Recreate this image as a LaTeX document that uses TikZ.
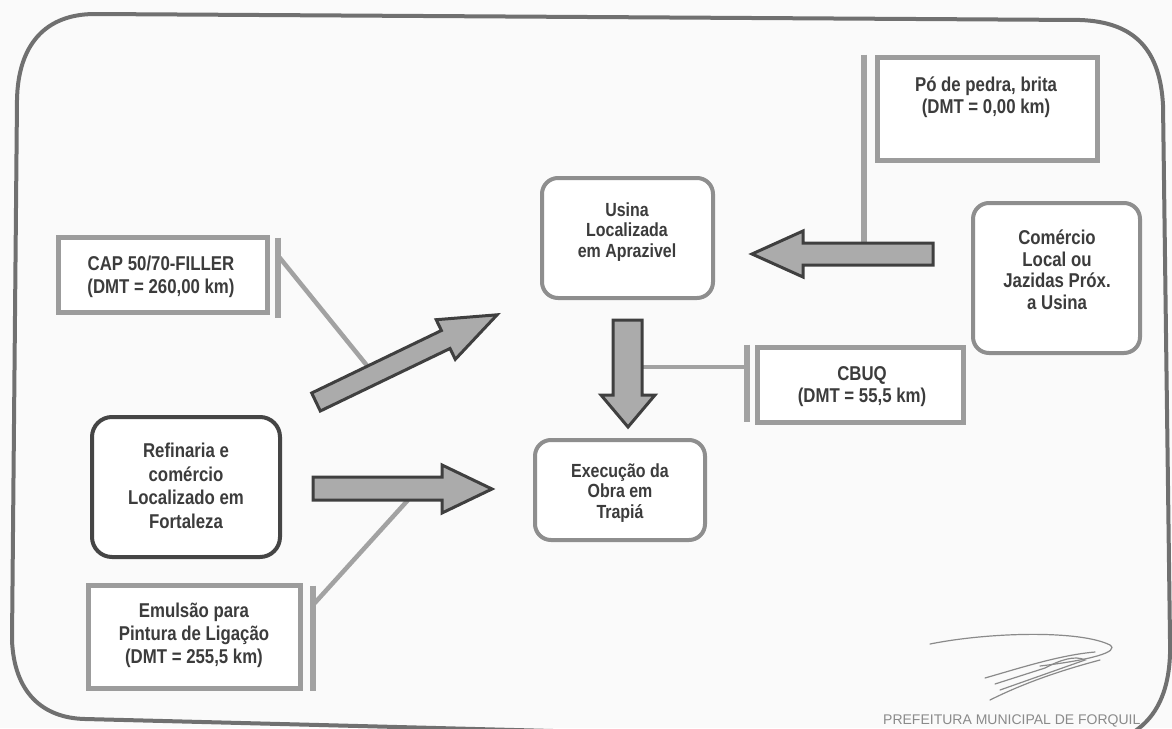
\documentclass[tikz,border=0pt]{standalone}
\usepackage{fontspec}
\setmainfont{Liberation Sans}
\newfontfamily\boxfont{Liberation Sans}[FakeStretch=0.84]
\usetikzlibrary{calc}
\definecolor{pagebg}{HTML}{FAFAFA}
\definecolor{boxgray}{HTML}{9C9C9C}
\definecolor{roundgray}{HTML}{8E8E8E}
\definecolor{darkline}{HTML}{454545}
\definecolor{txtgray}{HTML}{3C3C3C}
\definecolor{arrowfill}{HTML}{ABABAB}
\definecolor{arrowline}{HTML}{3F3F3F}
\definecolor{outergray}{HTML}{707070}
\definecolor{leadgray}{HTML}{A2A2A2}
\definecolor{siggray}{HTML}{8A8A8A}
\tikzset{
  sqbox/.style={draw=boxgray, line width=5pt, fill=white, inner sep=0pt},
  rbox/.style={draw=roundgray, line width=4pt, rounded corners=16pt, fill=white, inner sep=0pt},
  dbox/.style={draw=darkline, line width=4pt, rounded corners=20pt, fill=white, inner sep=0pt},
  txt/.style={align=center, text=txtgray, inner sep=0pt,
    font=\boxfont\bfseries\fontsize{20}{22}\selectfont},
  fatarrow/.style={fill=arrowfill, draw=arrowline, line width=3pt, line join=miter},
  leadbar/.style={draw=leadgray, line width=6pt},
  leadline/.style={draw=leadgray, line width=4.5pt},
  outer/.style={draw=outergray, line width=4pt},
  sig/.style={draw=siggray, line width=1.2pt, line cap=round}
}
\begin{document}
\begin{tikzpicture}[x=1pt,y=-1pt]
\useasboundingbox (0,0) rectangle (1172,728);
\fill[pagebg] (0,0) rectangle (1172,728);

% outer frame
\draw[outer] (95,14) -- (1080,20) .. controls (1135,22) and (1160,50) .. (1163,105)
  -- (1170,640) .. controls (1172,700) and (1150,735) .. (1100,745)
  -- (85,719) .. controls (42,718) and (14,692) .. (12,640)
  -- (17,100) .. controls (18,45) and (45,14) .. (95,14) -- cycle;

% boxes
\node[sqbox, minimum width=220pt, minimum height=103pt] (po) at (987,108.5) {};
\node[txt] (poT) at (986,97.5) {Pó de pedra, brita\\(DMT = 0,00 km)};

\node[rbox, minimum width=167pt, minimum height=150pt] (com) at (1056.5,278) {};
\node[txt, font=\boxfont\bfseries\fontsize{20}{21.5}\selectfont] (comT) at (1057,270) {Comércio\\Local ou\\Jazidas Próx.\\a Usina};

\node[rbox, minimum width=171pt, minimum height=120pt] (usi) at (627.5,238) {};
\node[txt, font=\boxfont\bfseries\fontsize{19}{20.5}\selectfont] (usiT) at (627,232) {Usina\\Localizada\\em Aprazivel};

\node[sqbox, minimum width=206pt, minimum height=75pt] (cb) at (860,384.5) {};
\node[txt] (cbT) at (862,387) {CBUQ\\(DMT = 55,5 km)};

\node[rbox, minimum width=170pt, minimum height=100pt] (exe) at (620,490) {};
\node[txt, font=\boxfont\bfseries\fontsize{19}{20.5}\selectfont] (exeT) at (620,493) {Execução da\\Obra em\\Trapiá};

\node[sqbox, minimum width=209pt, minimum height=75pt] (cap) at (162.5,274.5) {};
\node[txt, font=\boxfont\bfseries\fontsize{20}{23}\selectfont] (capT) at (161,277) {CAP 50/70-FILLER\\(DMT = 260,00 km)};

\node[dbox, minimum width=188pt, minimum height=140pt] (ref) at (186,487) {};
\node[txt, font=\boxfont\bfseries\fontsize{20}{23.5}\selectfont] (refT) at (186,486) {Refinaria e\\comércio\\Localizado em\\Fortaleza};

\node[sqbox, minimum width=212pt, minimum height=103pt] (emu) at (194,636.5) {};
\node[txt, font=\boxfont\bfseries\fontsize{20}{23}\selectfont] (emuT) at (194,635.5) {Emulsão para\\Pintura de Ligação\\(DMT = 255,5 km)};

% arrow key points
\coordinate (laTail) at (933,254);
\coordinate (laTip) at (752,254);
\coordinate (daTop) at (627.5,320);
\coordinate (daTip) at (628,427);
\coordinate (haTail) at (313,488.5);
\coordinate (haTip) at (492,489);
\coordinate (gaT1) at (311.7,393);
\coordinate (gaT2) at (320.3,411);
\coordinate (gaS1) at (441.4,330.5);
\coordinate (gaH1) at (436.2,319.7);
\coordinate (gaTip) at (497.1,314.8);
\coordinate (gaH2) at (455.3,359.3);
\coordinate (gaS2) at (450.0,348.5);

% leader lines (drawn under arrows)
\draw[leadbar] ($(po.north west)+(-11,0)$) coordinate (poB) -- (poB |- 0,244);
\draw[leadbar] ($(cb.north west)+(-8,0)$) coordinate (cbB) -- ($(cb.south west)+(-8,-3)$);
\draw[leadline] (cbB |- 0,367) -- (642,367);
\draw[leadbar] ($(cap.north east)+(8,3)$) coordinate (capB) -- ($(cap.south east)+(8,3)$);
\draw[leadline] ($(capB)+(2,20)$) -- ($(gaT1)!0.43!(gaS1)$);
\draw[leadbar] ($(emu.north east)+(10,3)$) coordinate (emuB) -- ($(emu.south east)+(10,0)$);
\draw[leadline] ($(emuB)+(0,20)$) -- (408,500);

% fat arrows
\draw[fatarrow] (laTail |- 0,243) -- (803,243) -- (803,231) -- (laTip) -- (803,277) -- (803,265) -- (laTail |- 0,265) -- cycle;
\draw[fatarrow] (613,320) -- (613,395) -- (601,395) -- (daTip) -- (655,395) -- (642,395) -- (642,320) -- cycle;
\draw[fatarrow] (313,477) -- (442,477) -- (442,465) -- (haTip) -- (442,513) -- (442,500) -- (313,500) -- cycle;
\draw[fatarrow] (gaT1) -- (gaS1) -- (gaH1) -- (gaTip) -- (gaH2) -- (gaS2) -- (gaT2) -- cycle;

% signature
\draw[sig] (930,644) .. controls (990,632) and (1080,630) .. (1110,645) .. controls (1120,652) and (1090,660) .. (1040,666);
\draw[sig] (985,678) .. controls (1020,668) and (1060,655) .. (1095,652);
\draw[sig] (995,684) -- (1045,668) .. controls (1060,660) and (1075,655) .. (1085,660) -- (1000,690);
\draw[sig] (990,700) .. controls (1030,680) and (1070,668) .. (1100,660);

% stamp text
\node[anchor=base west, inner sep=0pt, text=siggray, font=\fontsize{14}{14}\selectfont] (stamp) at (883,724) {PREFEITURA MUNICIPAL DE FORQUIL};
\end{tikzpicture}
\end{document}
